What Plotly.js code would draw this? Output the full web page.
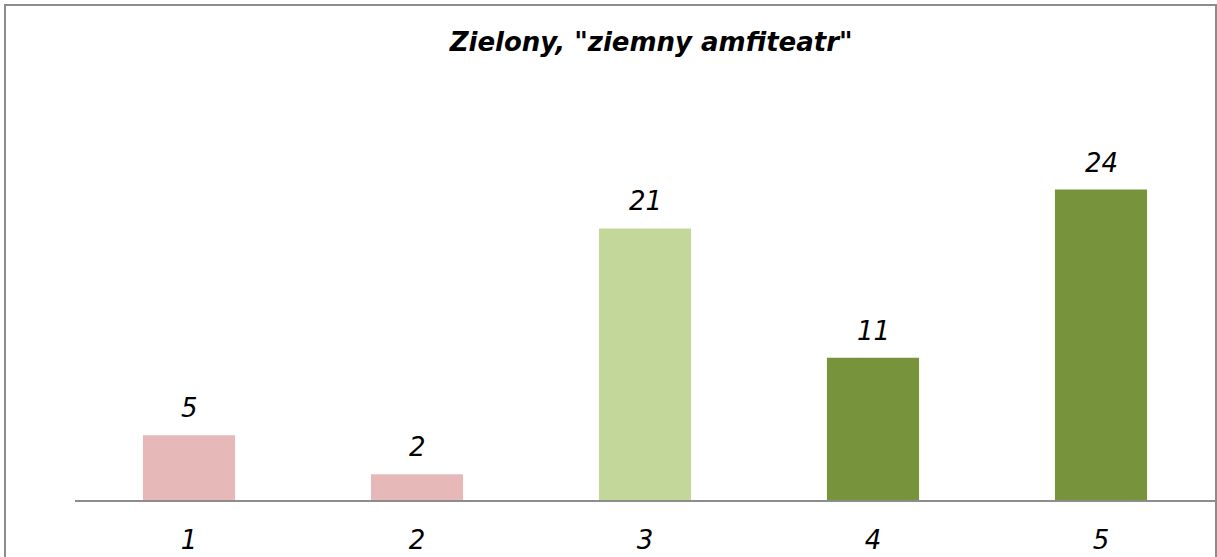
<!DOCTYPE html>
<html>
<head>
<meta charset="utf-8">
<script src="https://cdn.plot.ly/plotly-3.0.1.min.js"></script>
<style>
  html, body { margin: 0; padding: 0; background: #ffffff; overflow: hidden; }
  #wrap { position: relative; width: 1217px; height: 557px; }
  #chart { position: absolute; left: 0; top: 0; width: 1217px; height: 557px; }
  #frame { position: absolute; left: 4px; top: 4px; width: 1209px; height: 600px;
           border: 2px solid #8c8c8c; pointer-events: none; }
</style>
</head>
<body>
<div id="wrap">
  <div id="chart"></div>
  <div id="frame"></div>
</div>
<script>
const categories = [1, 2, 3, 4, 5];
const tickLabels = ["1", "2", "3", "4", "5"];
const values = [5, 2, 21, 11, 24];
const barColors = ["#E6B9B8", "#E6B9B8", "#C4D79B", "#77933C", "#77933C"];
const titleText = 'Zielony, "ziemny amfiteatr"';

const fontFamily = '"DejaVu Sans", Verdana, sans-serif';

const trace = {
  type: 'bar',
  x: categories,
  y: values,
  width: 0.404,
  marker: { color: barColors, line: { width: 0 } },
  hoverinfo: 'none'
};

const annotations = categories.map((c, i) => ({
  x: c,
  y: values[i],
  xref: 'x',
  yref: 'y',
  text: '<i>' + values[i] + '</i>',
  showarrow: false,
  yanchor: 'bottom',
  yshift: 10,
  font: { family: fontFamily, size: 26, color: '#000000' }
}));

const layout = {
  width: 1217,
  height: 557,
  paper_bgcolor: 'rgba(0,0,0,0)',
  plot_bgcolor: 'rgba(0,0,0,0)',
  margin: { l: 75, r: 2, t: 112, b: 57 },
  showlegend: false,
  title: {
    text: '<b><i>' + titleText + '</i></b>',
    x: 0.535,
    xanchor: 'center',
    y: 0.925,
    yanchor: 'middle',
    font: { family: fontFamily, size: 26, color: '#000000' }
  },
  xaxis: {
    type: 'linear',
    range: [0.5, 5.5],
    showline: true,
    linecolor: '#8c8c8c',
    linewidth: 2,
    ticks: 'outside',
    ticklen: 16,
    tickcolor: 'rgba(0,0,0,0)',
    tickvals: categories,
    ticktext: tickLabels.map(t => '<i>' + t + '</i>'),
    tickfont: { family: fontFamily, size: 26, color: '#000000' },
    showgrid: false,
    zeroline: false,
    fixedrange: true
  },
  yaxis: {
    range: [0, 30],
    visible: false,
    showgrid: false,
    zeroline: false,
    fixedrange: true
  },
  annotations: annotations
};

Plotly.newPlot('chart', [trace], layout, { displayModeBar: false, staticPlot: true });
</script>
</body>
</html>
